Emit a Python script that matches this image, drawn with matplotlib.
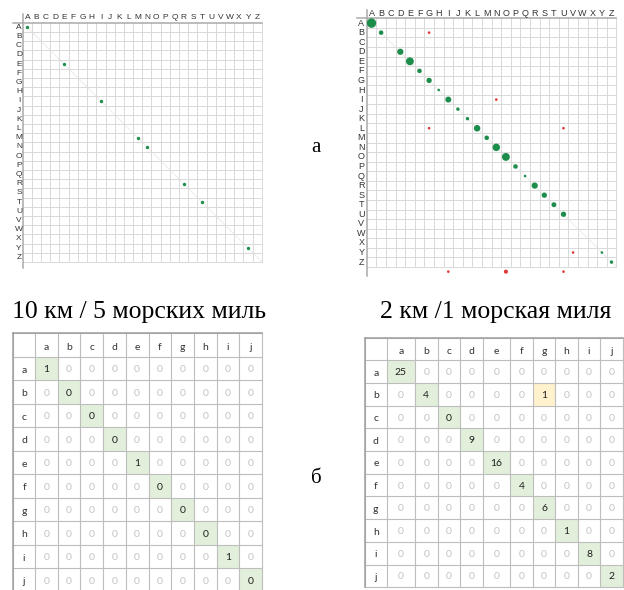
import numpy as np
import matplotlib.pyplot as plt

W, H = 624, 590

letters = list("ABCDEFGHIJKLMNOPQRSTUVWXYZ")

# 10 km / 5 nm grid: matched points (column, row)
coarse_cols = ["A", "E", "I", "M", "N", "R", "T", "Y"]
coarse_rows = ["A", "E", "I", "M", "N", "R", "T", "Y"]

# 2 km / 1 nm grid: matched clusters on the diagonal and their point counts
fine_cells = ["A", "B", "D", "E", "F", "G", "H", "I", "J", "K", "L", "M",
              "N", "O", "P", "Q", "R", "S", "T", "U", "Y", "Z"]
fine_counts = [25, 4, 9, 16, 4, 6, 1, 8, 2, 2, 10, 4,
               14, 16, 4, 1, 9, 6, 5, 6, 1, 2]
# mismatched points (red); empty row = below the last row
miss_cols = ["G", "N", "G", "U", "V", "I", "O", "U"]
miss_rows = ["B", "I", "L", "L", "Y", "", "", ""]
miss_counts = [1, 1, 1, 1, 1, 1, 3, 1]

# confusion tables for a..j
tab_labels = list("abcdefghij")
diag_10km = [1, 0, 0, 0, 1, 0, 0, 0, 1, 0]
diag_2km = [25, 4, 0, 9, 16, 4, 6, 1, 8, 2]
off_2km = [("b", "g", 1)]

captions = ["10 км / 5 морских миль", "2 км /1 морская миля"]

GREEN = "#1d8d4c"
RED = "#e3342f"
GRID = "#d9d9d9"
AXLINE = "#a9a9a9"

fig = plt.figure(figsize=(W / 100, H / 100), dpi=100)


def px_axes(x0, y0, w, h):
    return fig.add_axes([x0 / W, 1 - (y0 + h) / H, w / W, h / H])


def row_index(r):
    return 26 if r == "" else letters.index(r)


def grid_panel(x0, y0, cw, ch, fs, top_lab, left_lab, ext_top, ext_left, ext_bottom):
    ax = px_axes(x0, y0, 26 * cw, 26 * ch)
    ax.set_xlim(0, 26)
    ax.set_ylim(26, 0)
    ax.axis("off")
    for i in range(1, 27):
        ax.plot([i, i], [0, 26], color=GRID, lw=0.7, clip_on=False)
        ax.plot([0, 26], [i, i], color=GRID, lw=0.7, clip_on=False)
    ax.plot([0, 26], [0, 26], color="#ececec", lw=0.7, zorder=1)
    ax.plot([0, 0], [ext_top, ext_bottom], color=AXLINE, lw=1.1, clip_on=False)
    ax.plot([ext_left, 26], [0, 0], color=AXLINE, lw=1.1, clip_on=False)
    for i, l in enumerate(letters):
        ax.text(i + 0.5, top_lab, l, ha="center", va="center", fontsize=fs,
                color="#333333", family="Liberation Sans")
        ax.text(left_lab, i + 0.5, l, ha="center", va="center", fontsize=fs,
                color="#333333", family="Liberation Sans")
    return ax


# top left panel
ax1 = grid_panel(22.7, 22.7, 9.2, 9.2, 6.0, -0.6, -0.4, -1.0, -1.0, 26.7)
xc = [letters.index(c) + 0.5 for c in coarse_cols]
yc = [letters.index(r) + 0.5 for r in coarse_rows]
ax1.scatter(xc, yc, s=6, color=GREEN, linewidths=0, zorder=3)

# top right panel
ax2 = grid_panel(366.7, 18.3, 9.6, 9.56, 6.5, -0.5, -0.55, -0.9, -1.05, 27.0)
xf = [letters.index(c) + 0.5 for c in fine_cells]
sf = [(2.6 * n ** 0.4 * 0.72) ** 2 for n in fine_counts]
ax2.scatter(xf, xf, s=sf, color=GREEN, linewidths=0, zorder=3)
xm = [letters.index(c) + 0.5 for c in miss_cols]
ym = [row_index(r) + 0.5 for r in miss_rows]
sm = [(2.6 * n ** 0.4 * 0.72) ** 2 for n in miss_counts]
ax2.scatter(xm, ym, s=sm, color=RED, linewidths=0, zorder=3, clip_on=False)


def table_panel(x0, y0, colw, rowh, diag, off):
    xs = np.concatenate([[0], np.cumsum(colw)])
    ys = np.arange(12) * rowh
    ax = px_axes(x0, y0, xs[-1], ys[-1])
    ax.set_xlim(0, xs[-1])
    ax.set_ylim(ys[-1], 0)
    ax.axis("off")
    n = len(tab_labels)
    vals = np.zeros((n, n), dtype=int)
    for i, v in enumerate(diag):
        vals[i, i] = v
    for r, c, v in off:
        vals[tab_labels.index(r), tab_labels.index(c)] = v
    for i in range(n):
        for j in range(n):
            v = vals[i, j]
            fill = None
            if i == j:
                fill = "#e2efda"
            elif v:
                fill = "#fff2cc"
            if fill:
                ax.add_patch(plt.Rectangle((xs[j + 1], ys[i + 1]), colw[j + 1], rowh,
                                           facecolor=fill, edgecolor="none", zorder=1))
            dark = (i == j) or v != 0
            ax.text((xs[j + 1] + xs[j + 2]) / 2, ys[i + 1] + rowh * 0.55, str(v),
                    ha="center", va="center", fontsize=7.5, family="Lato",
                    color="#1f1f1f" if dark else "#c3c3c3")
    for k, l in enumerate(tab_labels):
        ax.text((xs[k + 1] + xs[k + 2]) / 2, rowh * 0.62, l, ha="center", va="center",
                fontsize=7.5, family="Lato", color="#333333")
        ax.text(xs[1] / 2, ys[k + 1] + rowh * 0.57, l, ha="center", va="center",
                fontsize=7.5, family="Lato", color="#333333")
    for x in xs:
        ax.plot([x, x], [0, ys[-1]], color="#bdbdbd", lw=0.8, zorder=2, clip_on=False)
    for y in ys:
        ax.plot([0, xs[-1]], [y, y], color="#bdbdbd", lw=0.8, zorder=2, clip_on=False)
    ax.plot([0, 0], [0, ys[-1]], color="#9e9e9e", lw=1.1, zorder=3, clip_on=False)
    ax.plot([0, xs[-1]], [0, 0], color="#9e9e9e", lw=1.1, zorder=3, clip_on=False)
    return ax


table_panel(13.3, 333.3, [21.7] + [22.7] * 10, 23.5, diag_10km, [])
table_panel(365.0, 337.5, [21.7, 28.3, 22.7, 22.7, 22.7, 27.0, 22.6, 22.7, 22.3, 22.7, 22.3],
            22.7, diag_2km, off_2km)

fig.text(139 / W, 1 - 318 / H, captions[0], ha="center", va="baseline",
         fontsize=18.5, family="Liberation Serif")
fig.text(495.5 / W, 1 - 318 / H, captions[1], ha="center", va="baseline",
         fontsize=18.5, family="Liberation Serif")
fig.text(316 / W, 1 - 152 / H, "а", ha="center", va="baseline",
         fontsize=15, family="Liberation Serif")
fig.text(316 / W, 1 - 483 / H, "б", ha="center", va="baseline",
         fontsize=15, family="Liberation Serif")

fig.savefig("out.png", dpi=100)
plt.close(fig)
